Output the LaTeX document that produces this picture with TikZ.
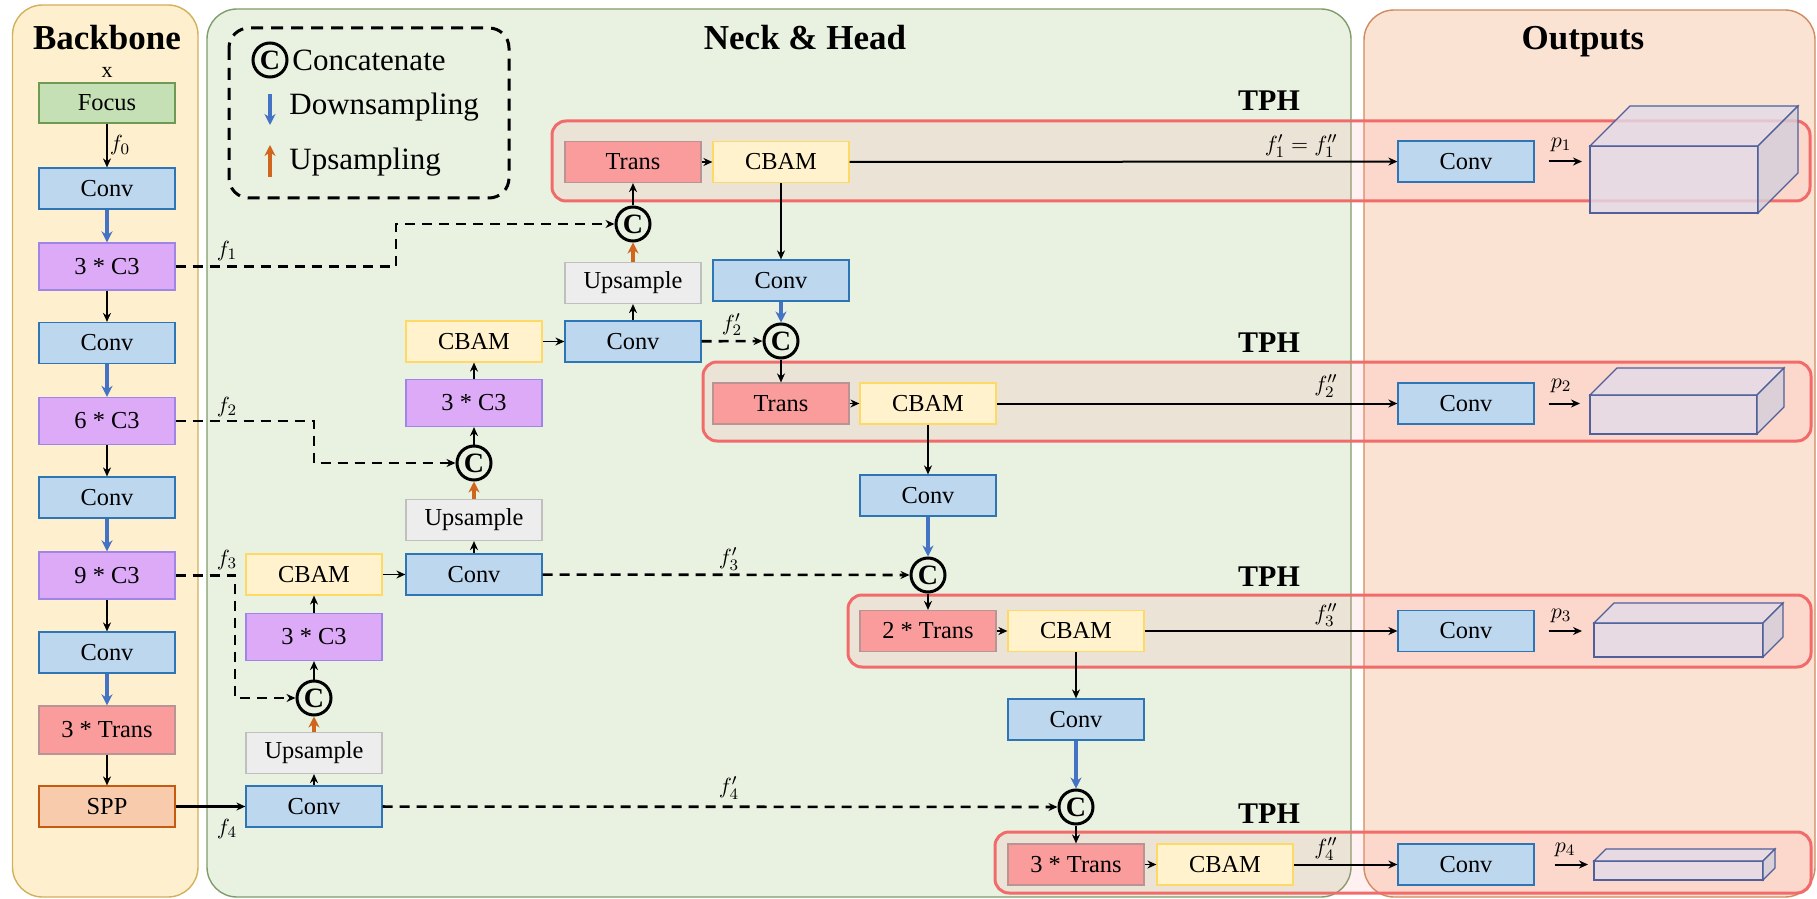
\documentclass[tikz,border=0pt]{standalone}
\usepackage{fontspec}
\setmainfont{Liberation Serif}
\usetikzlibrary{arrows.meta}

% panel and block colours
\definecolor{bbfill}{HTML}{FEF0CE}
\definecolor{bbline}{HTML}{D2B15C}
\definecolor{nkfill}{HTML}{E9F1E1}
\definecolor{nkline}{HTML}{7F9C6C}
\definecolor{otfill}{HTML}{FBE3D4}
\definecolor{otline}{HTML}{CF8A5E}
\definecolor{tphline}{HTML}{F26B6B}
\definecolor{tphfill}{HTML}{FF8A8A}
\definecolor{convfill}{HTML}{BDD7EE}
\definecolor{convline}{HTML}{2E75B6}
\definecolor{cthreefill}{HTML}{DDAAF8}
\definecolor{cthreeline}{HTML}{9D86E8}
\definecolor{transfill}{HTML}{FA9C9C}
\definecolor{transline}{HTML}{B89494}
\definecolor{cbamfill}{HTML}{FFF2CC}
\definecolor{cbamline}{HTML}{FFD966}
\definecolor{upfill}{HTML}{EDEDED}
\definecolor{upline}{HTML}{BFBFBF}
\definecolor{focusfill}{HTML}{C5E0B4}
\definecolor{focusline}{HTML}{6E9A53}
\definecolor{sppfill}{HTML}{F8CBAD}
\definecolor{sppline}{HTML}{C55A11}
\definecolor{downcol}{HTML}{4472C4}
\definecolor{upcol}{HTML}{D0651E}
\definecolor{cubefill}{HTML}{E2DBE8}
\definecolor{cubeline}{HTML}{50609A}

\newcommand\blkfont{\fontsize{12.2}{13}\selectfont}
\newcommand\ttlfont{\fontsize{17.5}{18}\selectfont\bfseries}
\newcommand\tphfont{\fontsize{15}{16}\selectfont\bfseries}
\newcommand\lgdfont{\fontsize{15.5}{16}\selectfont}
\newcommand\lblfont{\fontsize{11}{12}\selectfont}
\newcommand\catfont{\fontsize{14}{14}\selectfont\bfseries}

% cuboid: x1 y1 x2 y2 depth (front face corners)
\newcommand\drawcuboid[5]{%
  \filldraw[cube] (#1,#2) rectangle (#3,#4);
  \filldraw[cube] (#1,#2) -- (#1+#5,#2-#5) -- (#3+#5,#2-#5) -- (#3,#2) -- cycle;
  \filldraw[cube,fill=cubefill!94!black] (#3,#2) -- (#3+#5,#2-#5) -- (#3+#5,#4-#5) -- (#3,#4) -- cycle;
}

\tikzset{
  blk/.style={draw, line width=0.6pt, minimum width=68pt, minimum height=20.5pt,
              inner sep=0pt, font=\blkfont},
  conv/.style={blk, fill=convfill, draw=convline},
  cthree/.style={blk, fill=cthreefill, draw=cthreeline, minimum height=23.5pt},
  trans/.style={blk, fill=transfill, draw=transline},
  cbam/.style={blk, fill=cbamfill, draw=cbamline},
  upsm/.style={blk, fill=upfill, draw=upline},
  focus/.style={blk, fill=focusfill, draw=focusline, minimum height=20pt},
  spp/.style={blk, fill=sppfill, draw=sppline},
  cat/.style={circle, draw, line width=1.5pt, minimum size=17pt, inner sep=0pt,
              font=\catfont},
  arr/.style={-{Stealth[length=4.5pt,width=4pt]}, line width=0.9pt},
  darr/.style={arr, line width=1.3pt, dash pattern=on 5pt off 3.5pt},
  barr/.style={line width=1.6pt, draw=downcol, -{Stealth[length=5.5pt,width=5.5pt]}, color=downcol},
  oarr/.style={line width=1.6pt, draw=upcol, -{Stealth[length=5.5pt,width=5.5pt]}, color=upcol},
  harr/.style={arr, line width=1pt},
  panel/.style={line width=0.7pt, rounded corners=15pt},
  tph/.style={draw=tphline, line width=1.5pt, fill=tphfill, fill opacity=0.12, rounded corners=7pt},
  cube/.style={draw=cubeline, line width=0.6pt, fill=cubefill, fill opacity=0.8},
  lbl/.style={font=\lblfont, inner sep=1pt},
  ttl/.style={font=\ttlfont, anchor=base, inner sep=0pt},
  tphlbl/.style={font=\tphfont},
}

\begin{document}
\begin{tikzpicture}[x=0.5pt,y=-0.5pt]
\useasboundingbox (0,0) rectangle (1817,899);

% ---------- panels ----------
\draw[panel, fill=bbfill, draw=bbline] (12.5,5) rectangle (198,897);
\draw[panel, fill=nkfill, draw=nkline] (207,9) rectangle (1351,897);
\draw[panel, fill=otfill, draw=otline] (1364,10) rectangle (1815,897);

\node[ttl] (tbb) at (107,50) {Backbone};
\node[ttl] (tnk) at (805,50) {Neck \& Head};
\node[ttl] (tot) at (1583,50) {Outputs};

% ---------- legend ----------
\draw[line width=1.5pt, dash pattern=on 6pt off 4pt, rounded corners=10pt] (229,28) rectangle (509,198);
\node[cat] (lgcat) at (270,60) {C};
\node[font=\lgdfont, anchor=west, inner sep=0pt] (lgc) at (292,60) {Concatenate};
\draw[barr] (270,94) -- (270,125);
\node[font=\lgdfont, anchor=west, inner sep=0pt] (lgd) at (289,107) {Downsampling};
\draw[oarr] (270,177) -- (270,145);
\node[font=\lgdfont, anchor=west, inner sep=0pt] (lgu) at (289,162) {Upsampling};

% ---------- TPH frames ----------
\draw[tph] (552,121) rectangle (1810,201);
\draw[tph] (703,362) rectangle (1811,441);
\draw[tph] (848,595) rectangle (1811,667);
\draw[tph] (995,832) rectangle (1811,893);
\node[tphlbl] (tp1) at (1269,101) {TPH};
\node[tphlbl] (tp2) at (1269,343) {TPH};
\node[tphlbl] (tp3) at (1269,577) {TPH};
\node[tphlbl] (tp4) at (1269,814) {TPH};

% ---------- backbone ----------
\node[lbl] (xin) at (107,72) {x};
\node[focus]  (focus)  at (107,103)   {Focus};
\node[conv]   (bconv1) at (107,188.5) {Conv};
\node[cthree] (bc3a)   at (107,266.5) {3 * C3};
\node[conv]   (bconv2) at (107,343)   {Conv};
\node[cthree] (bc3b)   at (107,421)   {6 * C3};
\node[conv]   (bconv3) at (107,497.5) {Conv};
\node[cthree] (bc3c)   at (107,575.5) {9 * C3};
\node[conv]   (bconv4) at (107,652.5) {Conv};
\node[trans, minimum height=24pt] (btrans) at (107,730) {3 * Trans};
\node[spp]    (spp)    at (107,806.5) {SPP};

% ---------- neck columns ----------
\node[conv]   (nconvA) at (314,806.5) {Conv};
\node[upsm]   (upA)    at (314,753)   {Upsample};
\node[cat]    (catA)   at (314,698)   {C};
\node[cthree] (c3A)    at (314,637)   {3 * C3};
\node[cbam]   (cbamA)  at (314,574.5) {CBAM};

\node[conv]   (nconvB) at (474,574.5) {Conv};
\node[upsm]   (upB)    at (474,520)   {Upsample};
\node[cat]    (catB)   at (474,463)   {C};
\node[cthree] (c3B)    at (474,403)   {3 * C3};
\node[cbam]   (cbamB)  at (474,341.5) {CBAM};

\node[conv]   (nconvC) at (633,341.5) {Conv};
\node[upsm]   (upC)    at (633,283)   {Upsample};
\node[cat]    (catC)   at (633,224)   {C};
\node[trans]  (trans1) at (633,162)   {Trans};
\node[cbam]   (cbam1)  at (781,162)   {CBAM};

\node[conv]   (nconvD) at (781,280.5) {Conv};
\node[cat]    (catD)   at (781,341)   {C};
\node[trans]  (trans2) at (781,403.5) {Trans};
\node[cbam]   (cbam2)  at (928,403.5) {CBAM};

\node[conv]   (nconvE) at (928,495.5) {Conv};
\node[cat]    (catE)   at (928,575)   {C};
\node[trans]  (trans3) at (928,631)   {2 * Trans};
\node[cbam]   (cbam3)  at (1076,631)  {CBAM};

\node[conv]   (nconvF) at (1076,719.5) {Conv};
\node[cat]    (catF)   at (1076,807)   {C};
\node[trans]  (trans4) at (1076,864.5) {3 * Trans};
\node[cbam]   (cbam4)  at (1225,864.5) {CBAM};

% ---------- output heads ----------
\node[conv] (oc1) at (1466,161.5) {Conv};
\node[conv] (oc2) at (1466,403.5) {Conv};
\node[conv] (oc3) at (1466,631)   {Conv};
\node[conv] (oc4) at (1466,864.5) {Conv};

\drawcuboid{1590}{146}{1758}{213}{40}
\drawcuboid{1590}{395}{1757}{434}{27}
\drawcuboid{1594}{623}{1763}{657}{20}
\drawcuboid{1594}{861}{1763}{880}{12}
\coordinate (q1) at (1590,146);
\coordinate (q2) at (1590,395);
\coordinate (q3) at (1594,623);
\coordinate (q4) at (1594,861);

% ---------- backbone connectors ----------
\draw[arr]  (focus) -- (bconv1) node[midway, right, lbl] {$f_0$};
\draw[barr] (bconv1) -- (bc3a);
\draw[arr]  (bc3a) -- (bconv2);
\draw[barr] (bconv2) -- (bc3b);
\draw[arr]  (bc3b) -- (bconv3);
\draw[barr] (bconv3) -- (bc3c);
\draw[arr]  (bc3c) -- (bconv4);
\draw[barr] (bconv4) -- (btrans);
\draw[arr]  (btrans) -- (spp);
\draw[arr, line width=1.1pt] (spp) -- (nconvA);
\node[lbl] (lf4) at (227,829) {$f_4$};

% ---------- lateral skip connections ----------
\coordinate (k1) at (396,224);
\coordinate (k2) at (314,463);
\coordinate (k3) at (235,698);
\draw[darr] (bc3a.east) -| (k1) -- (catC.west);
\node[lbl] (lf1) at (227,251) {$f_1$};
\draw[darr] (bc3b.east) -| (k2) -- (catB.west);
\node[lbl] (lf2) at (227,407) {$f_2$};
\draw[darr] (bc3c.east) -| (k3) -- (catA.west);
\node[lbl] (lf3) at (227,560) {$f_3$};

% ---------- top-down path ----------
\draw[arr]  (nconvA) -- (upA);
\draw[oarr] (upA) -- (catA);
\draw[arr]  (catA) -- (c3A);
\draw[arr]  (c3A) -- (cbamA);
\draw[arr]  (cbamA) -- (nconvB);
\draw[arr]  (nconvB) -- (upB);
\draw[oarr] (upB) -- (catB);
\draw[arr]  (catB) -- (c3B);
\draw[arr]  (c3B) -- (cbamB);
\draw[arr]  (cbamB) -- (nconvC);
\draw[arr]  (nconvC) -- (upC);
\draw[oarr] (upC) -- (catC);
\draw[arr]  (catC) -- (trans1);
\draw[arr]  (trans1) -- (cbam1);

% ---------- bottom-up path ----------
\draw[arr]  (cbam1) -- (nconvD);
\draw[barr] (nconvD) -- (catD);
\draw[darr] (nconvC) -- (catD) node[midway, above, lbl, yshift=1pt] {$f_2'$};
\draw[arr]  (catD) -- (trans2);
\draw[arr]  (trans2) -- (cbam2);
\draw[arr]  (cbam2) -- (nconvE);
\draw[barr] (nconvE) -- (catE);
\draw[darr] (nconvB) -- (catE);
\node[lbl] (lf3p) at (729,559) {$f_3'$};
\draw[arr]  (catE) -- (trans3);
\draw[arr]  (trans3) -- (cbam3);
\draw[arr]  (cbam3) -- (nconvF);
\draw[barr] (nconvF) -- (catF);
\draw[darr] (nconvA) -- (catF);
\node[lbl] (lf4p) at (729,788) {$f_4'$};
\draw[arr]  (catF) -- (trans4);
\draw[arr]  (trans4) -- (cbam4);

% ---------- heads to outputs ----------
\draw[harr] (cbam1) -- (oc1);
\node[lbl, anchor=east] (lh1) at (1340,146) {$f_1' = f_1''$};
\draw[harr] (cbam2) -- (oc2);
\node[lbl, anchor=east] (lh2) at (1340,386) {$f_2''$};
\draw[harr] (cbam3) -- (oc3);
\node[lbl, anchor=east] (lh3) at (1340,615) {$f_3''$};
\draw[harr] (cbam4) -- (oc4);
\node[lbl, anchor=east] (lh4) at (1340,849) {$f_4''$};

\draw[harr, shorten <=7pt, shorten >=4pt] (oc1.east) -- (oc1.east -| q1);
\node[lbl] (lp1) at (1561,145) {$p_1$};
\draw[harr, shorten <=7pt, shorten >=5pt] (oc2.east) -- (oc2.east -| q2);
\node[lbl] (lp2) at (1561,386) {$p_2$};
\draw[harr, shorten <=7pt, shorten >=6pt] (oc3.east) -- (oc3.east -| q3);
\node[lbl] (lp3) at (1561,616) {$p_3$};
\draw[harr, shorten <=10pt, shorten >=3pt] (oc4.east) -- (oc4.east -| q4);
\node[lbl] (lp4) at (1565,850) {$p_4$};

\end{tikzpicture}
\end{document}
